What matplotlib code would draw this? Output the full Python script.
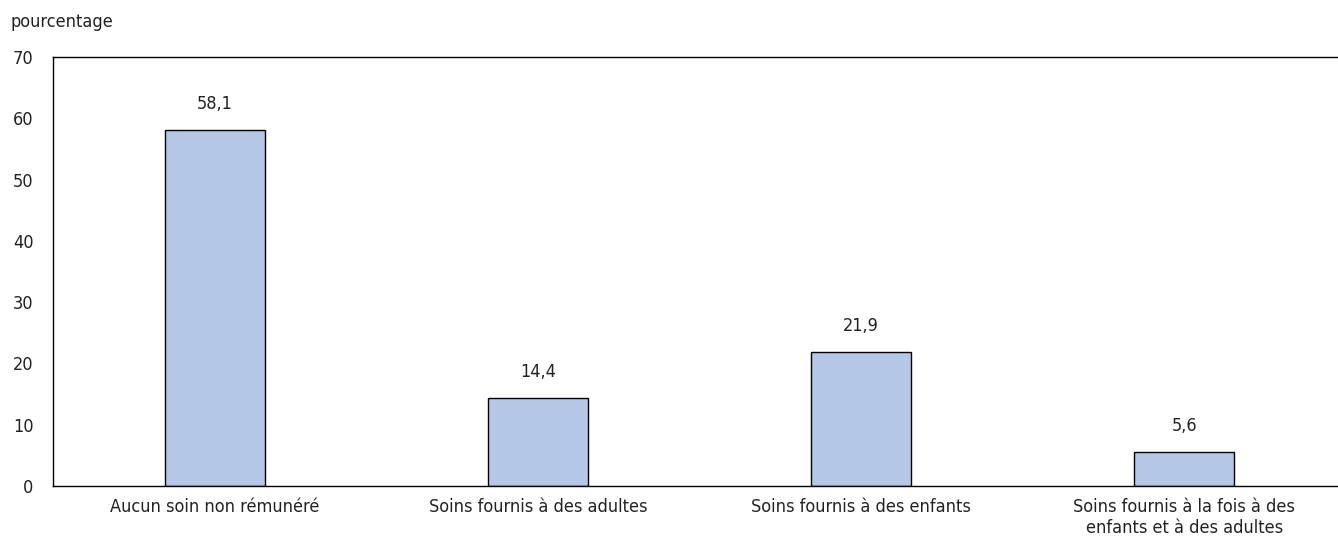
import matplotlib
matplotlib.use("Agg")
import matplotlib.pyplot as plt

categories = [
    "Aucun soin non rémunéré",
    "Soins fournis à des adultes",
    "Soins fournis à des enfants",
    "Soins fournis à la fois à des\nenfants et à des adultes",
]
values = [58.1, 14.4, 21.9, 5.6]
yticks = [0, 10, 20, 30, 40, 50, 60, 70]

plt.rcParams['font.family'] = ['Liberation Sans Narrow', 'DejaVu Sans']
plt.rcParams['font.stretch'] = 'condensed'
plt.rcParams['font.size'] = 13

fig = plt.figure(figsize=(13.38, 5.41), dpi=100)
ax = fig.add_axes([53 / 1338, 55 / 541, 1293 / 1338, 429 / 541])

x = range(len(categories))
bars = ax.bar(x, values, width=0.31, color='#b4c7e7', edgecolor='black', linewidth=1)

for b, v in zip(bars, values):
    ax.text(b.get_x() + b.get_width() / 2, v + 2.7, f"{v:.1f}".replace('.', ','),
            ha='center', va='bottom', color='#222222')

ax.set_xlim(-0.5, 3.5)
ax.set_ylim(0, 70)
ax.set_yticks(yticks)
ax.set_xticks(list(x))
ax.set_xticklabels(categories, color='#222222')
ax.tick_params(axis='both', length=0, colors='#222222')
ax.tick_params(axis='y', pad=14)
ax.tick_params(axis='x', pad=9)
ax.spines['right'].set_visible(False)
for s in ['left', 'top', 'bottom']:
    ax.spines[s].set_linewidth(1)
    ax.spines[s].set_color('black')

fig.text(10 / 1338, 1 - 22 / 541, "pourcentage", ha='left', va='center', color='#222222')

fig.savefig("out.png", dpi=100)
